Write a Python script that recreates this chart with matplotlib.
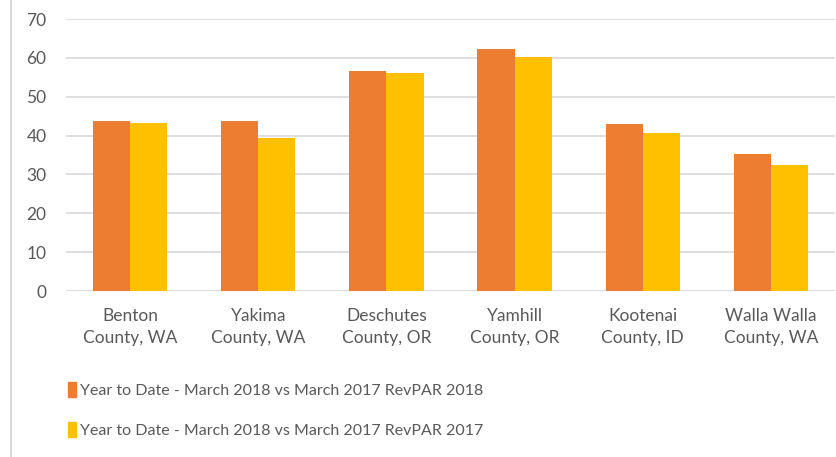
import matplotlib.pyplot as plt
from matplotlib.patches import Patch
import numpy as np

# Values
counties = ["Benton\nCounty, WA", "Yakima\nCounty, WA", "Deschutes\nCounty, OR",
            "Yamhill\nCounty, OR", "Kootenai\nCounty, ID", "Walla Walla\nCounty, WA"]
revpar_2018 = [43.7, 43.7, 56.5, 62.4, 42.9, 35.2]
revpar_2017 = [43.3, 39.3, 56.1, 60.1, 40.6, 32.4]
series_labels = ["Year to Date - March 2018 vs March 2017 RevPAR 2018",
                 "Year to Date - March 2018 vs March 2017 RevPAR 2017"]
colours = ["#ED7D31", "#FFC000"]
text_grey = "#595959"

plt.rcParams['font.family'] = ['Lato', 'DejaVu Sans']

fig = plt.figure(figsize=(8.36, 4.57), dpi=100)
ax = fig.add_axes([66 / 836, 166 / 457, 769 / 836, 272 / 457])

x = np.arange(len(counties))
width = 0.29
ax.bar(x - width / 2, revpar_2018, width, color=colours[0], zorder=3)
ax.bar(x + width / 2, revpar_2017, width, color=colours[1], zorder=3)

ax.set_xlim(-0.5, len(counties) - 0.5)
ax.set_ylim(0, 70)
ax.set_yticks(range(0, 71, 10))
ax.yaxis.grid(True, color="#D9D9D9", linewidth=1.2, zorder=0)
for s in ax.spines.values():
    s.set_visible(False)
ax.axhline(0, color="#D9D9D9", linewidth=1.2, zorder=2)
ax.tick_params(axis='both', length=0, colors=text_grey, labelsize=12.5)
ax.tick_params(axis='y', pad=14)
ax.tick_params(axis='x', pad=12)
ax.set_xticks(x)
ax.set_xticklabels(counties, linespacing=1.5)

# Left border of the chart area
fig.add_artist(plt.Line2D([11 / 836, 11 / 836], [0, 1], color="#D9D9D9", linewidth=1.5))

handles = [Patch(color=c) for c in colours]
leg = fig.legend(handles, series_labels, loc='center', bbox_to_anchor=(276 / 836, 1 - 410 / 457),
                 frameon=False, fontsize=11.5, handlelength=0.45, handleheight=1.1,
                 handletextpad=0.3, labelspacing=1.5)
for t in leg.get_texts():
    t.set_color(text_grey)

fig.savefig("out.png", dpi=100)
